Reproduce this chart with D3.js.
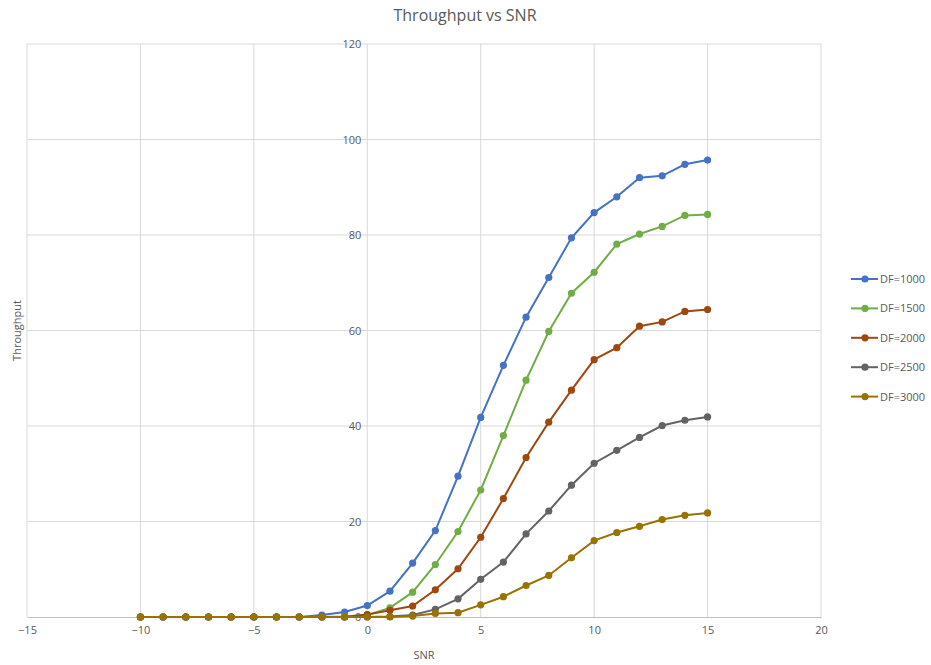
<!DOCTYPE html>
<html>
<head>
<meta charset="utf-8">
<script src="https://cdn.jsdelivr.net/npm/d3@7"></script>
<style>
  body { margin: 0; background: #fff; }
  text { font-family: "Open Sans", "Liberation Sans", sans-serif; fill: #595959; }
</style>
</head>
<body>
<svg width="931" height="665"></svg>
<script>
// data
const snr = [-10,-9,-8,-7,-6,-5,-4,-3,-2,-1,0,1,2,3,4,5,6,7,8,9,10,11,12,13,14,15]
const df1000 = [0,0,0,0,0,0,0,0,0.4,1.05,2.4,5.4,11.3,18.1,29.5,41.8,52.7,62.8,71.1,79.4,84.7,88.0,92.0,92.4,94.8,95.7]
const df1500 = [0,0,0,0,0,0,0,0,0,0.1,0.45,1.9,5.2,11.0,17.9,26.6,38.0,49.6,59.8,67.8,72.2,78.1,80.2,81.8,84.1,84.3]
const df2000 = [0,0,0,0,0,0,0,0,0,0,0.5,1.4,2.3,5.7,10.1,16.7,24.8,33.4,40.8,47.5,53.9,56.4,60.9,61.8,64.0,64.4]
const df2500 = [0,0,0,0,0,0,0,0,0,0,0,0.1,0.4,1.6,3.8,7.9,11.5,17.4,22.2,27.6,32.2,34.9,37.6,40.1,41.2,41.9]
const df3000 = [0,0,0,0,0,0,0,0,0,0,0,0,0.2,0.75,0.9,2.55,4.25,6.6,8.7,12.4,16.0,17.7,19.0,20.4,21.3,21.8]
const seriesNames = ["DF=1000","DF=1500","DF=2000","DF=2500","DF=3000"]
const seriesColors = ["#4472C4","#70AD47","#9E480E","#636363","#997300"]
const xTicks = [-15,-10,-5,0,5,10,15,20]
const yTicks = [0,20,40,60,80,100,120]

const allSeries = [df1000, df1500, df2000, df2500, df3000]

const svg = d3.select("svg")
const plotL = 27, plotR = 821, plotT = 44, plotB = 617

const xs = d3.scaleLinear().domain([-15, 20]).range([plotL, plotR])
const ys = d3.scaleLinear().domain([0, 120]).range([plotB, plotT])

// title
svg.append("text")
  .attr("x", 465).attr("y", 21)
  .attr("text-anchor", "middle")
  .style("font-size", "16px")
  .text("Throughput vs SNR")

// gridlines
svg.append("g").selectAll("line").data(xTicks).join("line")
  .attr("x1", d => xs(d)).attr("x2", d => xs(d))
  .attr("y1", plotT).attr("y2", plotB)
  .attr("stroke", "#d9d9d9").attr("stroke-width", 1)
svg.append("g").selectAll("line").data(yTicks.filter(d => d > 0)).join("line")
  .attr("x1", plotL).attr("x2", plotR)
  .attr("y1", d => ys(d)).attr("y2", d => ys(d))
  .attr("stroke", "#d9d9d9").attr("stroke-width", 1)

// x axis
const xAxis = d3.axisBottom(xs).tickValues(xTicks).tickSize(0).tickPadding(9)
const gx = svg.append("g").attr("transform", "translate(0," + plotB + ")").call(xAxis)
gx.select(".domain").attr("stroke", "#bfbfbf")
gx.selectAll("text").style("font-size", "11px").style("fill", "#595959")

// y axis placed at x = 0
const yAxis = d3.axisLeft(ys).tickValues(yTicks).tickSize(0).tickPadding(6)
const gy = svg.append("g").attr("transform", "translate(" + xs(0) + ",0)").call(yAxis)
gy.select(".domain").remove()
gy.selectAll("text").style("font-size", "11px").style("fill", "#595959")

// axis titles
svg.append("text")
  .attr("x", (plotL + plotR) / 2).attr("y", 659)
  .attr("text-anchor", "middle")
  .style("font-size", "11px")
  .text("SNR")
svg.append("text")
  .attr("transform", "translate(21," + (plotT + plotB) / 2 + ") rotate(-90)")
  .attr("text-anchor", "middle")
  .style("font-size", "11px")
  .text("Throughput")

// series
const line = d3.line().x((d, i) => xs(snr[i])).y(d => ys(d))
allSeries.forEach((vals, k) => {
  const g = svg.append("g")
  g.append("path").datum(vals)
    .attr("d", line)
    .attr("fill", "none")
    .attr("stroke", seriesColors[k])
    .attr("stroke-width", 2)
  g.selectAll("circle").data(vals).join("circle")
    .attr("cx", (d, i) => xs(snr[i]))
    .attr("cy", d => ys(d))
    .attr("r", 3.6)
    .attr("fill", seriesColors[k])
})

// legend
const lg = svg.append("g").selectAll("g").data(seriesNames).join("g")
  .attr("transform", (d, i) => "translate(0," + (279 + i * 29.4) + ")")
lg.append("line")
  .attr("x1", 851).attr("x2", 878).attr("y1", 0).attr("y2", 0)
  .attr("stroke", (d, i) => seriesColors[i]).attr("stroke-width", 2)
lg.append("circle")
  .attr("cx", 865).attr("cy", 0).attr("r", 3.6)
  .attr("fill", (d, i) => seriesColors[i])
lg.append("text")
  .attr("x", 880).attr("y", 4)
  .style("font-size", "11px")
  .text(d => d)
</script>
</body>
</html>
